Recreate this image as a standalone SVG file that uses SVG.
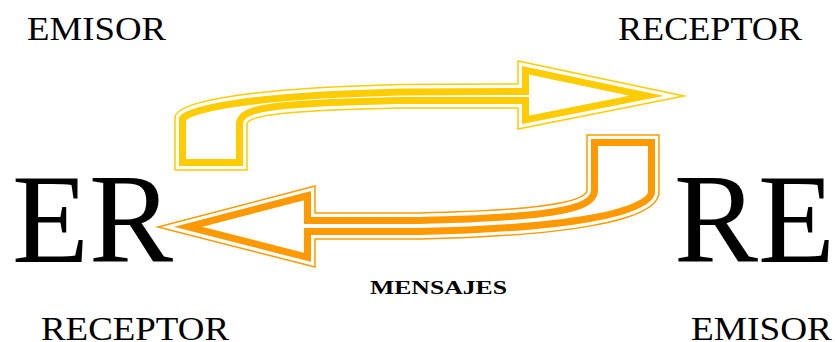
<svg xmlns="http://www.w3.org/2000/svg" xmlns:xlink="http://www.w3.org/1999/xlink" width="835" height="342" viewBox="0 0 835 342">
<style>
.t{font-family:"Liberation Serif","Times New Roman",serif;fill:#000}
.lbl{font-size:34px}
.big{font-size:126px}
.b{font-size:19px;font-weight:bold}
.thin{fill:none;stroke-width:1.5;stroke-linejoin:miter;stroke-miterlimit:20}
.thick{fill:none;stroke-width:22}
.gap{fill:none;stroke:#fff;stroke-width:8}
.y{stroke:#FFCC00}
.o{stroke:#FF9900}
</style>
<defs>
<path id="ya" d="M175,170 L175,118 C175,100 260,88 400,84.5 L518,84 L518,61 L684,96 L518,129 L518,108 L400,108 C300,110 248,114 247,124 L247,170 Z"/>
<path id="oa" d="M587,135 L659,135 L659,192 C659,222 560,236 420,239 L315,239 L315,267 L158,227 L315,186 L315,213 L420,213 C520,211 587,204 587,190 Z"/>
<clipPath id="yc"><use xlink:href="#ya"/></clipPath>
<clipPath id="oc"><use xlink:href="#oa"/></clipPath>
</defs>
<g id="connectors">
<g id="arrow-top">
<use xlink:href="#ya" fill="#fff"/>
<g clip-path="url(#yc)"><use xlink:href="#ya" class="thick y"/><use xlink:href="#ya" class="gap"/></g>
<use xlink:href="#ya" class="thin y"/>
</g>
<g id="arrow-bottom">
<use xlink:href="#oa" fill="#fff"/>
<g clip-path="url(#oc)"><use xlink:href="#oa" class="thick o"/><use xlink:href="#oa" class="gap"/></g>
<use xlink:href="#oa" class="thin o"/>
</g>
</g>
<g id="emisor-top"><text class="t lbl" x="27" y="40" textLength="139" lengthAdjust="spacingAndGlyphs">EMISOR</text></g>
<g id="receptor-top"><text class="t lbl" x="618" y="40" textLength="184" lengthAdjust="spacingAndGlyphs">RECEPTOR</text></g>
<g id="node-ER"><text class="t big" x="12" y="262">ER</text></g>
<g id="node-RE"><text class="t big" x="674" y="262">RE</text></g>
<g id="mensajes"><text class="t b" x="370" y="294" textLength="137" lengthAdjust="spacingAndGlyphs">MENSAJES</text></g>
<g id="receptor-bottom"><text class="t lbl" x="41" y="340" textLength="188" lengthAdjust="spacingAndGlyphs">RECEPTOR</text></g>
<g id="emisor-bottom"><text class="t lbl" x="691" y="340" textLength="141" lengthAdjust="spacingAndGlyphs">EMISOR</text></g>
</svg>
